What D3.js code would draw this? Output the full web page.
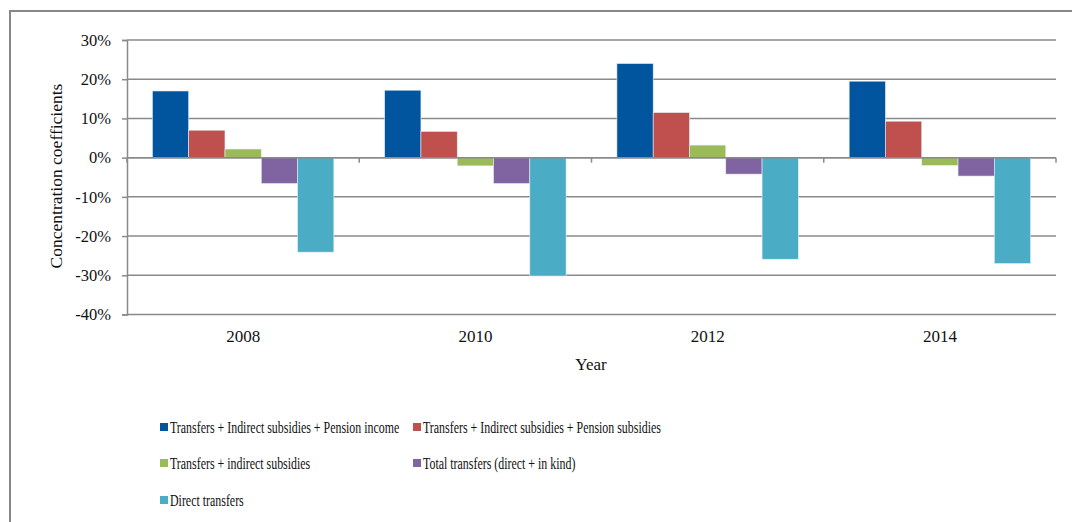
<!DOCTYPE html>
<html>
<head>
<meta charset="utf-8">
<script src="https://cdn.jsdelivr.net/npm/d3@7"></script>
<style>
 body { margin: 0; background: #fff; }
 svg text { font-family: "Liberation Serif", "Times New Roman", "DejaVu Serif", serif; fill: #111; }
</style>
</head>
<body>
<div id="chart"></div>
<script>
// Data
const years = ["2008", "2010", "2012", "2014"];
const seriesNames = [
 "Transfers + Indirect subsidies + Pension income",
 "Transfers + Indirect subsidies + Pension subsidies",
 "Transfers + indirect subsidies",
 "Total transfers (direct + in kind)",
 "Direct transfers"
];
const seriesColors = ["#01559F", "#C0504D", "#9BBB59", "#8064A2", "#4BACC6"];
// one array per series, values in percent, order = years
const pensionIncome = [17.0, 17.2, 24.0, 19.5];
const pensionSubsidies = [7.0, 6.7, 11.5, 9.3];
const indirectSubsidies = [2.2, -2.1, 3.2, -2.0];
const totalTransfers = [-6.6, -6.6, -4.2, -4.7];
const directTransfers = [-24.1, -30.2, -25.9, -27.0];
const yTicks = [30, 20, 10, 0, -10, -20, -30, -40];

const seriesValues = [pensionIncome, pensionSubsidies, indirectSubsidies, totalTransfers, directTransfers];

(function(){
 const width = 1072, height = 522;
 const svg = d3.select("#chart").append("svg")
  .attr("width", width).attr("height", height);

 // outer chart frame (runs off the right and bottom of the picture)
 svg.append("rect")
  .attr("x", 10).attr("y", 11)
  .attr("width", width + 20).attr("height", height + 20)
  .attr("fill", "none").attr("stroke", "#878787").attr("stroke-width", 2);

 const plot = { left: 127, right: 1056, top: 40, bottom: 314.5 };

 const y = d3.scaleLinear().domain([-40, 30]).range([plot.bottom, plot.top]);
 const x0 = d3.scaleBand().domain(years).range([plot.left, plot.right]).padding(0);
 const x1 = d3.scaleBand().domain(d3.range(seriesNames.length))
  .range([0, x0.bandwidth()]).paddingInner(0).paddingOuter(0.7);

 // horizontal gridlines
 svg.append("g").selectAll("line").data(yTicks).enter().append("line")
  .attr("x1", plot.left).attr("x2", plot.right)
  .attr("y1", d => y(d)).attr("y2", d => y(d))
  .attr("stroke", "#8a8a8a").attr("stroke-width", 1.5);

 // bars
 const group = svg.append("g").selectAll("g").data(years).enter().append("g")
  .attr("transform", d => `translate(${x0(d)},0)`);
 group.selectAll("rect")
  .data((yr, i) => seriesValues.map((vals, s) => ({ s, v: vals[i] })))
  .enter().append("rect")
  .attr("x", d => x1(d.s))
  .attr("width", x1.bandwidth())
  .attr("y", d => y(Math.max(0, d.v)))
  .attr("height", d => Math.abs(y(d.v) - y(0)))
  .attr("fill", d => seriesColors[d.s])
  .attr("stroke", "#e8eef4").attr("stroke-width", 0.6);

 // y axis
 const yAxis = svg.append("g")
  .attr("transform", `translate(${plot.left},0)`)
  .call(d3.axisLeft(y).tickValues(yTicks).tickSize(5).tickPadding(11)
   .tickFormat(d => d + "%"));
 yAxis.attr("font-family", null).attr("font-size", null);
 yAxis.select(".domain").attr("stroke", "#8a8a8a").attr("stroke-width", 1.5);
 yAxis.selectAll(".tick line").attr("stroke", "#8a8a8a").attr("stroke-width", 1.5);
 yAxis.selectAll(".tick text").attr("font-size", 16.5).attr("fill", "#111");

 // x axis on the zero line, ticks at category boundaries
 const zeroY = y(0);
 svg.append("line")
  .attr("x1", plot.left).attr("x2", plot.right)
  .attr("y1", zeroY).attr("y2", zeroY)
  .attr("stroke", "#8a8a8a").attr("stroke-width", 1.5);
 const bounds = years.map(d => x0(d)).concat([plot.right]);
 svg.append("g").selectAll("line").data(bounds).enter().append("line")
  .attr("x1", d => d).attr("x2", d => d)
  .attr("y1", zeroY).attr("y2", zeroY + 5)
  .attr("stroke", "#8a8a8a").attr("stroke-width", 1.5);

 // category labels under the plot
 svg.append("g").selectAll("text").data(years).enter().append("text")
  .attr("x", d => x0(d) + x0.bandwidth() / 2)
  .attr("y", 342)
  .attr("text-anchor", "middle")
  .attr("font-size", 17)
  .text(d => d);

 // axis titles
 svg.append("text")
  .attr("x", 591).attr("y", 370)
  .attr("text-anchor", "middle").attr("font-size", 17)
  .text("Year");
 svg.append("text")
  .attr("transform", "translate(62,176) rotate(-90)")
  .attr("text-anchor", "middle").attr("font-size", 17.5)
  .text("Concentration coefficients");

 // legend, two columns (reference face is narrower than Times, so squeeze it)
 const legendPos = [
  { x: 160, y: 427 }, { x: 413, y: 427 },
  { x: 160, y: 463 }, { x: 413, y: 463 },
  { x: 160, y: 500 }
 ];
 const legend = svg.append("g").selectAll("g").data(seriesNames).enter().append("g")
  .attr("transform", (d, i) => `translate(${legendPos[i].x},${legendPos[i].y})`);
 legend.append("rect")
  .attr("x", 0).attr("y", -4).attr("width", 8).attr("height", 8)
  .attr("fill", (d, i) => seriesColors[i]);
 legend.append("g")
  .attr("transform", "translate(10,5.5) scale(0.745,1)")
  .append("text")
  .attr("font-size", 16)
  .text(d => d);
})();
</script>
</body>
</html>
